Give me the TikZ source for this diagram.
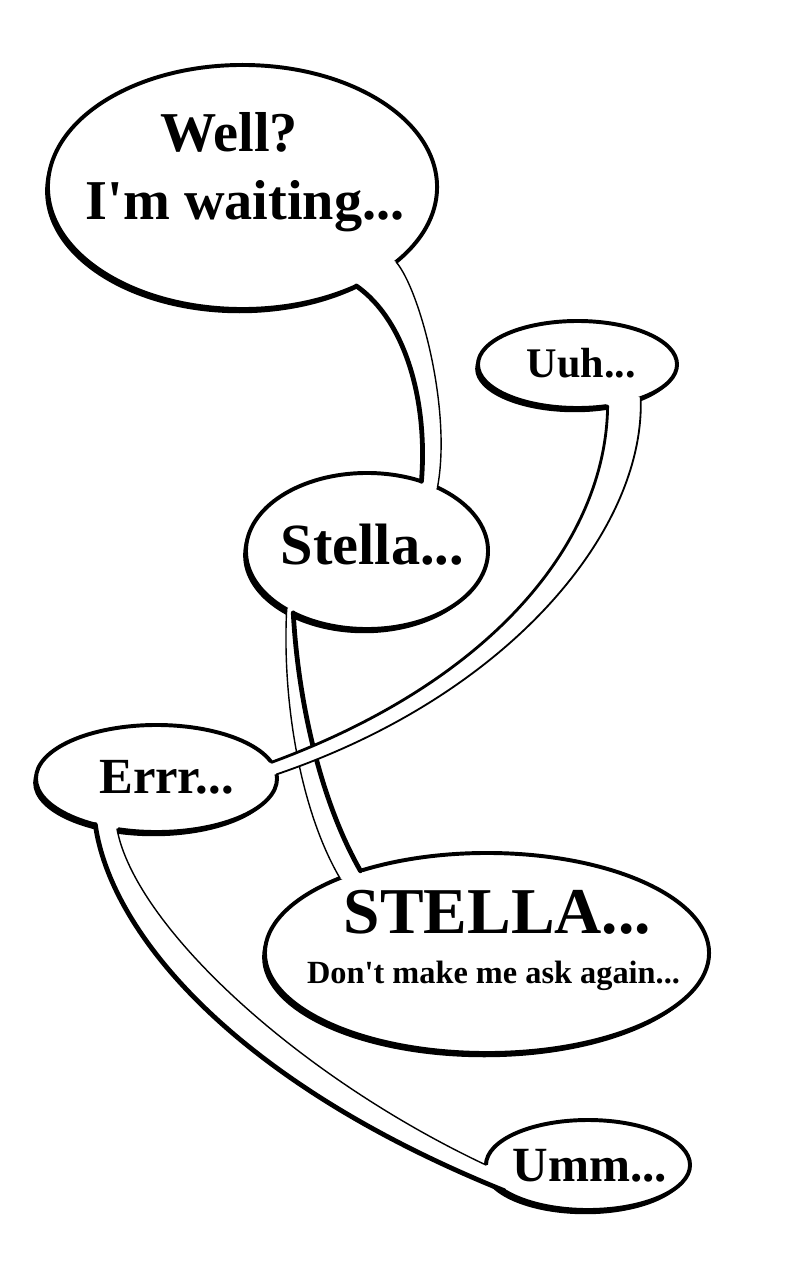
\documentclass[tikz,border=0pt]{standalone}
\usepackage{fontspec}
\newfontfamily\bubblefont{Liberation Serif}
\usetikzlibrary{shapes.geometric}
\usetikzlibrary{shadows}

\begin{document}
\begin{tikzpicture}[line cap=round,line join=round,x=0.025cm,y=-0.025cm,
  bubble/.style={ellipse,draw=black,fill=white,line width=2.8pt,inner sep=0pt,outer sep=0pt,
    drop shadow={shadow xshift=-2pt,shadow yshift=-3pt,opacity=1,fill=black}},
  tailfill/.style={fill=white},
  tailthick/.style={line width=3.4pt},
  tailthin/.style={line width=1pt},
  say/.style={anchor=base,font=\bubblefont\bfseries\fontsize{#1}{#1}\selectfont}]
\useasboundingbox (0,0) rectangle (800,1280);
\node[bubble,minimum width=9.725cm,minimum height=6.1cm] (well) at (242.5,187) {};
\node[bubble,minimum width=6.05cm,minimum height=3.9cm] (stella) at (367,551) {};
\node[bubble,minimum width=4.975cm,minimum height=2.175cm] (uuh) at (577.5,364.5) {};
\node[bubble,minimum width=6.025cm,minimum height=2.675cm] (errr) at (156.5,778.5) {};
\node[bubble,minimum width=11.1cm,minimum height=5cm] (loud) at (487,953) {};
\node[bubble,minimum width=5.1cm,minimum height=2.25cm] (umm) at (588,1165) {};
\fill[tailfill] (well.-41.4) .. controls (405,320) and (428,400) .. (stella.52.9) -- (stella.center) -- (stella.42.8) .. controls (452,410) and (420,290) .. (well.-26.2) -- (well.center) -- cycle;
\draw[tailthick] (well.-41.4) .. controls (405,320) and (428,400) .. (stella.52.9);
\draw[tailthin] (well.-26.2) .. controls (420,290) and (452,410) .. (stella.42.8);
\fill[tailfill] (stella.-144.9) .. controls (282,700) and (300,810) .. (loud.153.7) -- (loud.center) -- (loud.147.2) .. controls (320,800) and (298,700) .. (stella.-140.4) -- (stella.center) -- cycle;
\draw[tailthin] (stella.-144.9) .. controls (282,700) and (300,810) .. (loud.153.7);
\draw[tailthick] (stella.-140.4) .. controls (298,700) and (320,800) .. (loud.147.2);
\fill[tailfill] (errr.-143.9) .. controls (110,930) and (230,1080) .. (umm.-163) -- (umm.center) -- (umm.180) .. controls (295,1075) and (135,925) .. (errr.-128.9) -- (errr.center) -- cycle;
\draw[tailthick] (errr.-143.9) .. controls (110,930) and (230,1080) .. (umm.-163);
\draw[tailthin] (errr.-128.9) .. controls (135,925) and (295,1075) .. (umm.180);
\fill[tailfill] (uuh.-54.3) .. controls (606,540) and (495,680) .. (errr.8.1) -- (errr.center) -- (errr.2.6) .. controls (510,695) and (645,530) .. (uuh.-28.2) -- (uuh.center) -- cycle;
\draw[line width=2pt] (uuh.-54.3) .. controls (606,540) and (495,680) .. (errr.8.1);
\draw[line width=1.3pt] (uuh.-28.2) .. controls (645,530) and (510,695) .. (errr.2.6);
\node[say=40] (welltxt) at (229,152) {Well?};
\node[say=40] (waittxt) at (245,220) {I'm waiting...};
\node[say=41.5] (stellatxt) at (372.5,564) {Stella...};
\node[say=30] (uuhtxt) at (581.5,377) {Uuh...};
\node[say=36] (errrtxt) at (166.5,793) {Errr...};
\node[say=46.5] (loudtxt) at (497.5,933) {STELLA...};
\node[say=23] (asktxt) at (493.5,983) {Don't make me ask again...};
\node[say=35] (ummtxt) at (590,1181) {Umm...};
\end{tikzpicture}
\end{document}
